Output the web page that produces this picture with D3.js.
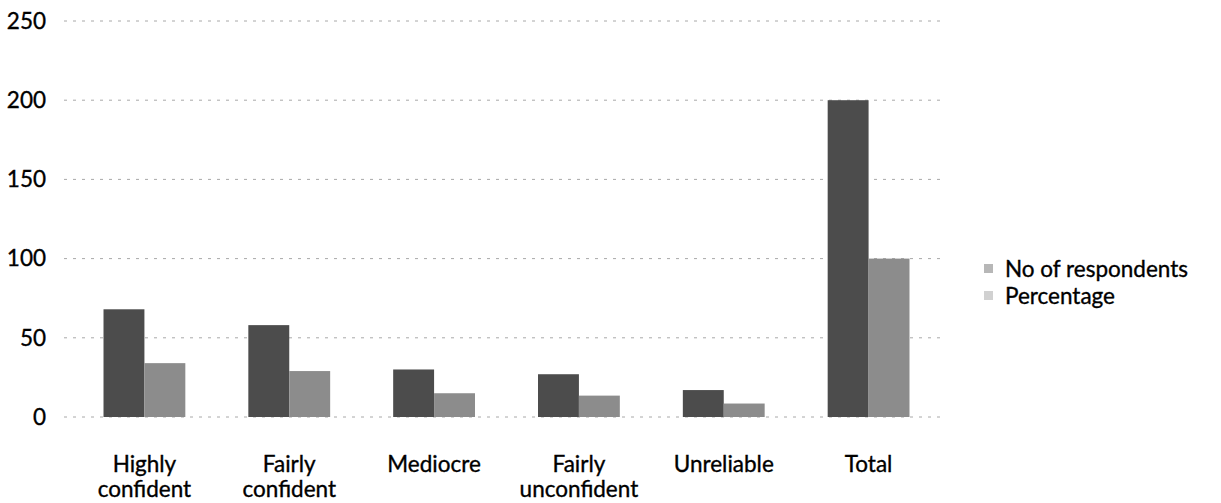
<!DOCTYPE html>
<html>
<head>
<meta charset="utf-8">
<script src="https://cdn.jsdelivr.net/npm/d3@7"></script>
<style>
  body { margin: 0; background: #fff; }
  text { font-family: Lato, "Liberation Sans", sans-serif; fill: #000; stroke: #000; stroke-width: 0.35px; }
</style>
</head>
<body>
<div id="chart"></div>
<script>
var categories = ['Highly confident', 'Fairly confident', 'Mediocre', 'Fairly unconfident', 'Unreliable', 'Total'];
var respondents = [68, 58, 30, 27, 17, 200];
var percentage = [34, 29, 15, 13.5, 8.5, 100];
var seriesNames = ['No of respondents', 'Percentage'];
var yTicks = [0, 50, 100, 150, 200, 250];
var colors = ['#4c4c4c', '#8c8c8c'];

var width = 1221, height = 503;
var plot = { left: 64, right: 940, top: 21, bottom: 417 };
var fontSize = 22.5;

var svg = d3.select('#chart').append('svg')
  .attr('width', width)
  .attr('height', height);

var x = d3.scaleBand()
  .domain(categories)
  .range([72, 941])
  .paddingInner(0)
  .paddingOuter(0);

var x1 = d3.scaleBand()
  .domain(seriesNames)
  .range([0, x.bandwidth()])
  .paddingInner(0)
  .paddingOuter(0.77);

var y = d3.scaleLinear()
  .domain([0, 250])
  .range([plot.bottom, plot.top]);

// gridlines
svg.append('g')
  .selectAll('line')
  .data(yTicks)
  .enter()
  .append('line')
  .attr('x1', plot.left)
  .attr('x2', plot.right)
  .attr('y1', (d) => y(d))
  .attr('y2', (d) => y(d))
  .attr('stroke', '#a8a8a8')
  .attr('stroke-width', 1)
  .attr('stroke-dasharray', '3,6');

// y axis labels
var yAxis = svg.append('g')
  .attr('transform', 'translate(' + plot.left + ',0)')
  .call(d3.axisLeft(y).tickValues(yTicks).tickSize(0).tickPadding(18));
yAxis.select('.domain').remove();
yAxis.selectAll('text')
  .attr('font-size', fontSize)
  .attr('font-family', 'Lato, sans-serif')
  .attr('fill', '#000');

var rows = categories.map((c, i) => ({ cat: c, values: [respondents[i], percentage[i]] }));

var groups = svg.append('g')
  .selectAll('g')
  .data(rows)
  .enter()
  .append('g')
  .attr('transform', (d) => 'translate(' + x(d.cat) + ',0)');

groups.selectAll('rect')
  .data((d) => d.values.map((v, j) => ({ name: seriesNames[j], value: v, j: j })))
  .enter()
  .append('rect')
  .attr('x', (d) => x1(d.name))
  .attr('width', x1.bandwidth())
  .attr('y', (d) => y(d.value))
  .attr('height', (d) => y(0) - y(d.value))
  .attr('fill', (d) => colors[d.j]);

// category labels, wrapped on two lines
var labelLines = {
  'Highly confident': ['Highly', 'confident'],
  'Fairly confident': ['Fairly', 'confident'],
  'Fairly unconfident': ['Fairly', 'unconfident']
};
var xLabels = svg.append('g')
  .selectAll('text')
  .data(categories)
  .enter()
  .append('text')
  .attr('text-anchor', 'middle')
  .attr('font-size', fontSize)
  .attr('x', (d) => x(d) + x.bandwidth() / 2)
  .attr('y', 472);
xLabels.each(function (d) {
  var lines = labelLines[d] || [d];
  var t = d3.select(this);
  lines.forEach((l, i) => {
    t.append('tspan')
      .attr('x', x(d) + x.bandwidth() / 2)
      .attr('dy', i === 0 ? 0 : 25)
      .text(l);
  });
});

// legend
var legend = svg.append('g')
  .attr('transform', 'translate(984,269)');
var items = legend.selectAll('g')
  .data(seriesNames)
  .enter()
  .append('g')
  .attr('transform', (d, i) => 'translate(0,' + i * 27 + ')');
items.append('rect')
  .attr('x', 0)
  .attr('y', -5)
  .attr('width', 9)
  .attr('height', 9)
  .attr('fill', (d, i) => colors[i])
  .attr('opacity', 0.4);
items.append('text')
  .attr('x', 21)
  .attr('y', 8)
  .attr('font-size', fontSize)
  .text((d) => d);
</script>
</body>
</html>
